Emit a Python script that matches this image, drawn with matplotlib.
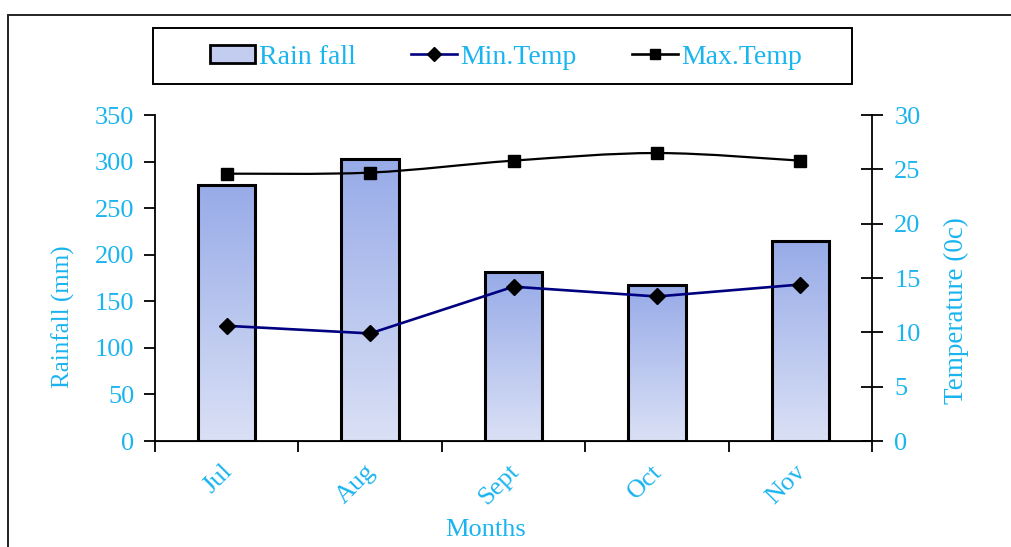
import numpy as np
import matplotlib
matplotlib.use("Agg")
import matplotlib.pyplot as plt
from matplotlib.path import Path
from matplotlib.patches import PathPatch, Rectangle
from matplotlib.colors import LinearSegmentedColormap
from matplotlib.lines import Line2D
import matplotlib.transforms as mtransforms

# Data
months = ["Jul", "Aug", "Sept", "Oct", "Nov"]
rainfall = [275, 303, 181, 167, 215]
min_temp = [10.6, 9.9, 14.2, 13.3, 14.4]
max_temp = [24.6, 24.7, 25.8, 26.5, 25.8]

TXT = "#1AB4EE"
plt.rcParams["font.family"] = ["Liberation Serif", "DejaVu Serif"]

W, H = 1011, 547
fig = plt.figure(figsize=(W / 100, H / 100), dpi=100)
ax = fig.add_axes([155 / W, 1 - 441 / H, 717 / W, 326 / H])
ax2 = ax.twinx()

# outer frame running off the page edges
fig.patches.append(Rectangle((8 / W, -0.2), 1.3, 1 - 15 / H + 0.2,
                             transform=fig.transFigure, fill=False,
                             ec="#222222", lw=1.4, zorder=0))

x = np.arange(len(months))
bar_w = 0.40
cmap = LinearSegmentedColormap.from_list("rain", ["#DAE0F5", "#97ABE8"])
grad = np.linspace(0, 1, 256).reshape(-1, 1)
bars = ax.bar(x, rainfall, width=bar_w, facecolor="none", edgecolor="black",
              linewidth=2.2, zorder=3)
for b in bars:
    x0, y0, w, h = b.get_x(), b.get_y(), b.get_width(), b.get_height()
    im = ax.imshow(grad, cmap=cmap, origin="lower", aspect="auto",
                   extent=(x0, x0 + w, y0, y0 + h), zorder=2)
    im.set_clip_path(b)

ax.set_xlim(-0.5, 4.5)
ax.set_ylim(0, 350)
ax2.set_ylim(0, 30)

# min temperature: straight segments
ax2.plot(x, min_temp, color="#000080", lw=1.9, marker="D", ms=8.5,
         mfc="black", mec="black", zorder=4)

# max temperature: smoothed bezier through the points
pts = np.column_stack([x, max_temp]).astype(float)
verts = [tuple(pts[0])]
codes = [Path.MOVETO]
n = len(pts)
for i in range(n - 1):
    p0 = pts[max(i - 1, 0)]
    p1, p2 = pts[i], pts[i + 1]
    p3 = pts[min(i + 2, n - 1)]
    c1 = p1 + (p2 - p0) / 6
    c2 = p2 - (p3 - p1) / 6
    verts += [tuple(c1), tuple(c2), tuple(p2)]
    codes += [Path.CURVE4] * 3
ax2.add_patch(PathPatch(Path(verts, codes), fill=False, ec="black", lw=1.6, zorder=4))
ax2.plot(x, max_temp, ls="none", marker="s", ms=8.5, color="black", zorder=5)

# axes styling
for a in (ax, ax2):
    a.spines["top"].set_visible(False)
    a.set_facecolor("none")
ax.spines["right"].set_visible(False)
ax2.spines["left"].set_visible(False)
ax.spines["left"].set_linewidth(1.3)
ax.spines["bottom"].set_linewidth(1.3)
ax2.spines["right"].set_linewidth(1.3)

ax.set_yticks(np.arange(0, 351, 50))
ax.tick_params(axis="y", direction="out", length=8, width=1.3, pad=7,
               labelsize=19, labelcolor=TXT)
ax2.set_yticks(np.arange(0, 31, 5))
ax2.tick_params(axis="y", direction="inout", length=16, width=1.3, pad=8,
                labelsize=19, labelcolor=TXT)

ax.set_xticks(x)
ax.set_xticklabels(months, rotation=45, ha="right", va="top",
                   fontsize=19, color=TXT)
ax.tick_params(axis="x", which="major", length=0, pad=14)
ax.set_xticks(np.arange(-0.5, 4.6, 1), minor=True)
ax.tick_params(axis="x", which="minor", direction="out", length=8, width=1.3)
shift = mtransforms.ScaledTranslation(10 / 100, 0, fig.dpi_scale_trans)
for lbl in ax.get_xticklabels():
    lbl.set_transform(lbl.get_transform() + shift)

fig.text(486 / W, 1 - 530 / H, "Months", ha="center", va="center",
         fontsize=19, color=TXT)
fig.text(63 / W, 1 - 317 / H, "Rainfall (mm)", ha="center", va="center",
         rotation=90, fontsize=18, color=TXT)
fig.text(956 / W, 1 - 311 / H, "Temperature (0c)", ha="center", va="center",
         rotation=90, fontsize=19.5, color=TXT)

# legend box
fig.patches.append(Rectangle((153 / W, 1 - 84 / H), 699 / W, 56 / H,
                             transform=fig.transFigure, fill=False,
                             ec="black", lw=1.4, zorder=1))
handles = [
    Rectangle((0, 0), 1, 1, facecolor="#C2CDF0", edgecolor="black", lw=2),
    Line2D([], [], color="#000080", lw=1.9, marker="D", ms=7.5, mfc="black", mec="black"),
    Line2D([], [], color="black", lw=1.9, marker="s", ms=7.5),
]
leg = fig.legend(handles, ["Rain fall", "Min.Temp", "Max.Temp"], ncol=3,
                 loc="center", bbox_to_anchor=(506 / W, 1 - 57 / H),
                 fontsize=20, frameon=False,
                 handlelength=1.65, handleheight=0.6, handletextpad=0.12,
                 columnspacing=2.0, borderpad=0, borderaxespad=0)
for t in leg.get_texts():
    t.set_color(TXT)

fig.savefig("out.png", dpi=100)
